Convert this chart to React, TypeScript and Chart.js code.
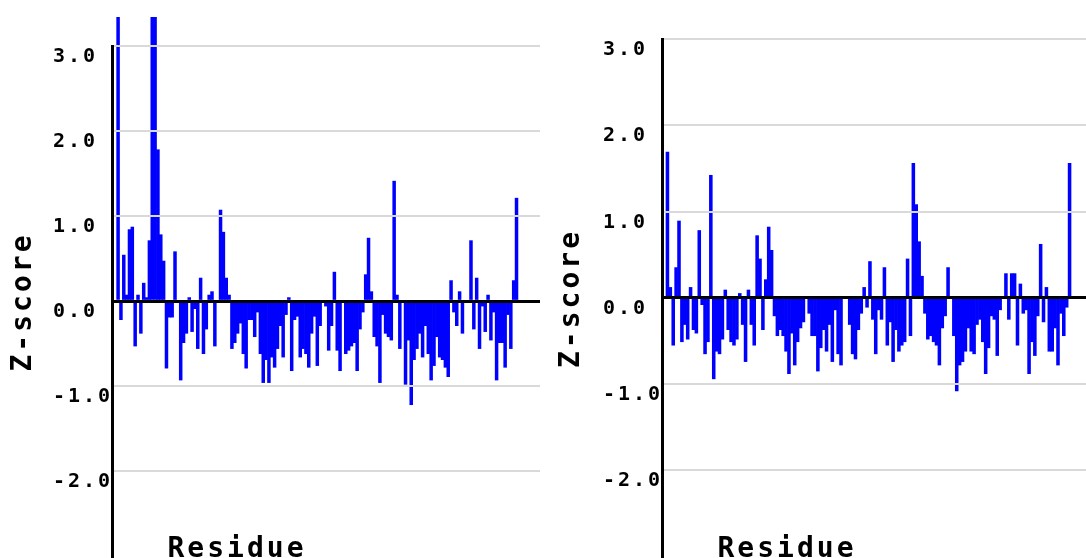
import React, { useEffect, useRef } from 'react';
import { Chart, registerables } from 'chart.js';

Chart.register(...registerables);

// Z-scores per residue, left panel (values above 3.3 are cut off by the panel top)
const LEFT_ZSCORES = [
  3.6, -0.22, 0.54, 0.07, 0.84, 0.87, -0.53, 0.07, -0.38, 0.21,
  0.04, 0.71, 3.6, 3.6, 1.78, 0.78, 0.47, -0.79, -0.19, -0.19,
  0.58, 0, -0.93, -0.49, -0.38, 0.04, -0.36, -0.09, -0.56, 0.27,
  -0.62, -0.33, 0.07, 0.11, -0.53, 0, 1.07, 0.81, 0.27, 0.07,
  -0.56, -0.49, -0.38, -0.26, -0.62, -0.79, -0.22, -0.22, -0.42, -0.13,
  -0.62, -0.96, -0.69, -0.96, -0.66, -0.78, -0.56, -0.29, -0.66, -0.16,
  0.04, -0.82, -0.22, -0.18, -0.66, -0.56, -0.62, -0.78, -0.38, -0.18,
  -0.76, -0.29, 0, -0.06, -0.58, -0.29, 0.34, -0.58, -0.82, 0,
  -0.62, -0.58, -0.53, -0.49, -0.82, -0.33, -0.13, 0.31, 0.74, 0.11,
  -0.42, -0.53, -0.96, -0.16, -0.38, -0.42, -0.46, 1.41, 0.07, -0.56,
  0, -0.98, -0.46, -1.22, -0.69, -0.56, -0.38, -0.66, -0.29, -0.62,
  -0.93, -0.76, -0.42, -0.66, -0.69, -0.78, -0.89, 0.24, -0.13, -0.29,
  0.11, -0.38, 0, 0, 0.71, -0.33, 0.27, -0.56, -0.06, -0.36,
  0.07, -0.46, -0.13, -0.93, -0.49, -0.49, -0.78, -0.16, -0.56, 0.24,
  1.21,
];

// Z-scores per residue, right panel
const RIGHT_ZSCORES = [
  1.69, 0.12, -0.55, 0.35, 0.89, -0.51, -0.31, -0.48, 0.12, -0.37,
  -0.41, 0.78, -0.08, -0.65, -0.51, 1.42, -0.94, -0.62, -0.65, -0.48,
  0.09, -0.37, -0.51, -0.55, -0.48, 0.05, -0.31, -0.74, 0.09, -0.31,
  -0.55, 0.72, 0.45, -0.37, 0.21, 0.82, 0.55, -0.21, -0.44, -0.37,
  -0.44, -0.62, -0.88, -0.41, -0.78, -0.51, -0.35, -0.28, 0, -0.18,
  -0.44, -0.44, -0.85, -0.58, -0.37, -0.62, -0.31, -0.74, -0.14, -0.65,
  -0.78, 0, 0, -0.31, -0.65, -0.71, -0.37, -0.18, 0.12, -0.11,
  0.42, -0.25, -0.65, -0.14, -0.25, 0.35, -0.55, -0.28, -0.74, -0.37,
  -0.62, -0.55, -0.51, 0.45, -0.44, 1.56, 1.08, 0.65, 0.25, -0.18,
  -0.48, -0.44, -0.51, -0.55, -0.78, -0.35, -0.21, 0.35, 0, -0.44,
  -1.08, -0.78, -0.74, -0.62, -0.35, -0.62, -0.65, -0.31, -0.25, -0.51,
  -0.88, -0.58, -0.21, -0.25, -0.67, -0.14, 0, 0.28, -0.25, 0.28,
  0.28, -0.55, 0.16, -0.18, -0.14, -0.88, -0.51, -0.67, -0.21, 0.62,
  -0.28, 0.12, -0.62, -0.62, -0.35, -0.78, -0.18, -0.44, -0.11, 1.56,
];

const Y_TICKS = [-2, -1, 0, 1, 2, 3];
const X_TITLE = 'Residue';
const Y_TITLE = 'Z-score';

const FONT_FAMILY = '"DejaVu Sans Mono", "Liberation Mono", monospace';
const BAR_COLOR = '#0000ff';
const GRID_COLOR = '#d9d9d9';

const setSpacing = (chart: any) => {
  try {
    (chart.ctx as any).letterSpacing = '3px';
  } catch (e) {
    /* ignore */
  }
};

const spacingPlugin = {
  id: 'letterSpacingPlugin',
  beforeInit: setSpacing,
  beforeLayout: setSpacing,
  beforeDraw: setSpacing,
};

const residuePlugin = {
  id: 'residueLabel',
  afterDraw(chart: any, _args: any, opts: any) {
    const { ctx, chartArea } = chart;
    ctx.save();
    try {
      (ctx as any).letterSpacing = '3px';
    } catch (e) {
      /* ignore */
    }
    ctx.font = `bold 28px ${FONT_FAMILY}`;
    ctx.fillStyle = '#000';
    ctx.textAlign = 'center';
    ctx.textBaseline = 'alphabetic';
    ctx.fillText(opts.text, chartArea.left + opts.dx, opts.y);
    ctx.restore();
  },
};

type PanelProps = {
  values: number[];
  left: number;
  width: number;
  padTop: number;
  padRight: number;
  xMin: number;
  xMax: number;
  yMin: number;
  titlePadTop: number;
  titlePadBottom: number;
  clipTop: number;
};

function Panel(p: PanelProps) {
  const ref = useRef<HTMLCanvasElement | null>(null);
  useEffect(() => {
    if (!ref.current) return;
    const residues = p.values.map((_, i) => i + 1);
    const chart = new Chart(ref.current, {
      type: 'bar',
      data: {
        labels: residues,
        datasets: [
          {
            data: p.values,
            backgroundColor: BAR_COLOR,
            borderWidth: 0,
            barPercentage: 1,
            categoryPercentage: 1,
            clip: { left: 0, top: p.clipTop, right: 0, bottom: 0 } as any,
          },
        ],
      },
      options: {
        responsive: false,
        animation: false,
        devicePixelRatio: 1,
        layout: { padding: { left: 0, right: p.padRight, top: p.padTop, bottom: 0 } },
        plugins: {
          legend: { display: false },
          tooltip: { enabled: false },
          title: {
            display: true,
            text: Y_TITLE,
            position: 'left',
            color: '#000',
            font: { family: FONT_FAMILY, size: 28, weight: 'bold', lineHeight: 1 },
            padding: { top: p.titlePadTop, bottom: p.titlePadBottom },
          },
          residueLabel: { text: X_TITLE, dx: 125, y: 557 },
        } as any,
        scales: {
          x: {
            type: 'linear',
            display: false,
            offset: false,
            min: p.xMin,
            max: p.xMax,
            ticks: { includeBounds: false },
            grid: { display: false },
          },
          y: {
            type: 'linear',
            min: p.yMin,
            max: 3,
            afterBuildTicks: (scale: any) => {
              scale.ticks = Y_TICKS.map((v) => ({ value: v }));
            },
            afterFit: (scale: any) => {
              scale.width = 59;
              scale.paddingTop = 0;
              scale.paddingBottom = 0;
            },
            ticks: {
              crossAlign: 'far',
              labelOffset: 11,
              padding: 0,
              color: '#000',
              autoSkip: false,
              font: { family: FONT_FAMILY, size: 20, weight: 'bold' },
              callback: (v: any) => Number(v).toFixed(1),
            },
            grid: {
              color: (c: any) => (c.tick && c.tick.value === 0 ? '#000000' : GRID_COLOR),
              lineWidth: (c: any) => (c.tick && c.tick.value === 0 ? 3 : 2),
              drawTicks: false,
              tickLength: 0,
              z: 1,
            },
            border: { display: true, color: '#000', width: 3, z: 2 },
          },
        },
      } as any,
      plugins: [spacingPlugin, residuePlugin],
    });
    return () => chart.destroy();
  }, []);
  return (
    <canvas
      ref={ref}
      width={p.width}
      height={558}
      style={{ position: 'absolute', left: p.left, top: 0, width: p.width, height: 558 }}
    />
  );
}

export default function App() {
  return (
    <div
      style={{
        position: 'fixed',
        left: 0,
        top: 0,
        width: 1086,
        height: 558,
        background: '#fff',
        overflow: 'hidden',
      }}
    >
      <Panel
        values={LEFT_ZSCORES}
        left={0}
        width={545}
        padTop={46}
        padRight={5}
        xMin={-1.14}
        xMax={149.25}
        yMin={-3.0235}
        titlePadTop={10}
        titlePadBottom={15}
        clipTop={29}
      />
      <Panel
        values={RIGHT_ZSCORES}
        left={548}
        width={538}
        padTop={39}
        padRight={0}
        xMin={-0.88}
        xMax={145.68}
        yMin={-3.017}
        titlePadTop={10}
        titlePadBottom={17}
        clipTop={0}
      />
    </div>
  );
}
